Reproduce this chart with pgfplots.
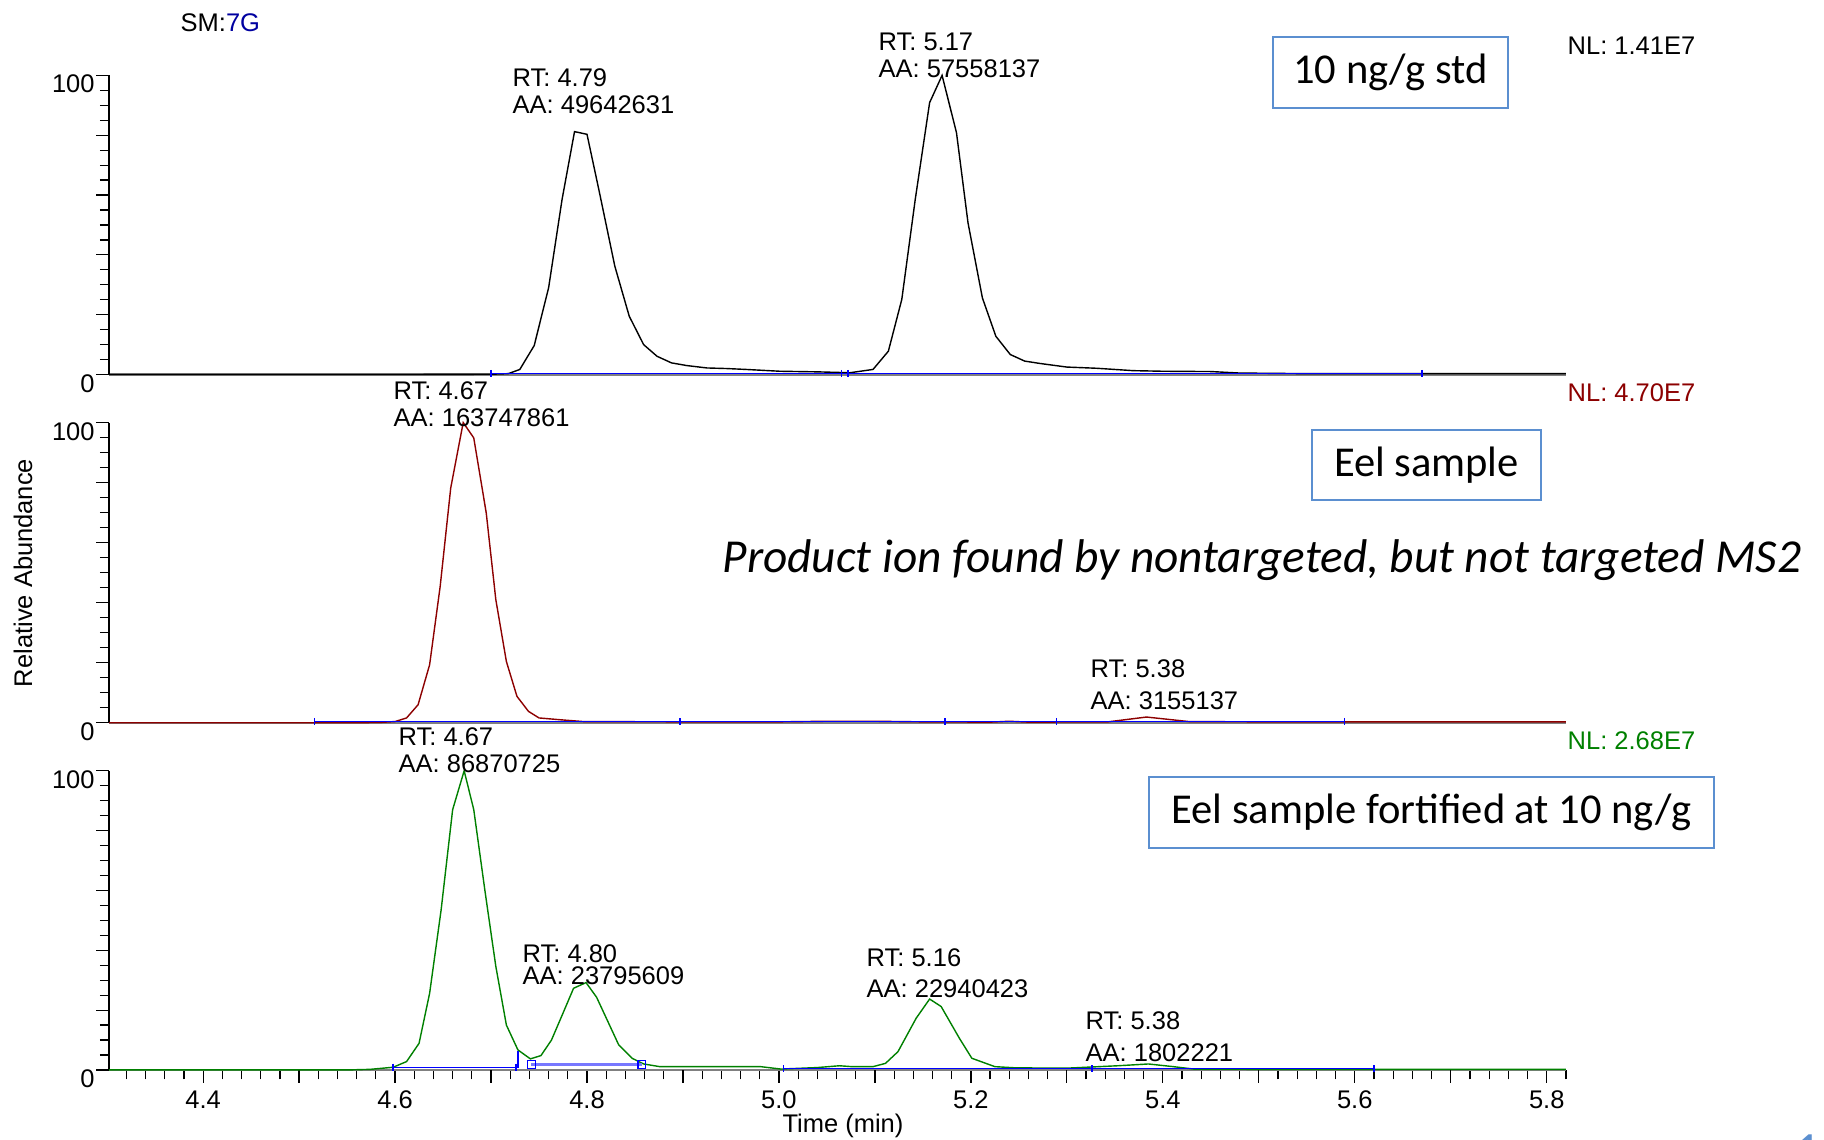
\documentclass[border=0pt]{standalone}
\usepackage{pgfplots}
\pgfplotsset{compat=1.18}
\usepackage{fontspec}
\setmainfont{Liberation Sans}
\newfontfamily\calibri{Carlito}

\definecolor{boxblue}{RGB}{91,143,208}
\definecolor{nlred}{RGB}{140,0,0}
\definecolor{nlgreen}{RGB}{0,128,0}
\definecolor{smblue}{RGB}{0,0,160}
\definecolor{basblue}{RGB}{0,0,255}
\definecolor{lightbas}{RGB}{120,120,255}

\newcommand{\lab}{\fontsize{7.25}{8}\selectfont}
\newcommand{\calfont}{\calibri\fontsize{12.1}{14}\selectfont}

% one chromatogram panel, 0..100 % relative abundance
\pgfplotsset{
  chrom/.style={
    scale only axis, width=14.56cm, height=2.99cm, anchor=south west,
    xmin=4.302, xmax=5.82, ymin=0, ymax=100,
    axis x line=bottom, axis y line=left,
    axis line style={-},
    x axis line style={-, gray, line width=0.6pt},
    y axis line style={-, black, line width=0.4pt},
    clip=false,
    tick align=outside,
    major tick length=0.127cm, minor tick length=0.093cm,
    tick style={black, line width=0.35pt},
    ytick={0,100}, yticklabels={0,100},
    extra y ticks={20,40,60,80}, extra y tick labels={},
    minor ytick={5,10,...,95},
    yticklabel style={font=\lab, anchor=base east, inner sep=0pt, xshift=-0.3pt, yshift=-5pt},
    /pgf/number format/assume math mode=true,
    xtick=\empty,
  }
}

\begin{document}
\begin{tikzpicture}[x=0.01cm, y=0.01cm]
\useasboundingbox (0,0) rectangle (1824,1140);

% ---- 10 ng/g standard ----
\begin{axis}[chrom, at={(1.09cm,7.65cm)}]
\addplot[black, line width=0.4pt] coordinates {
 (4.302,0) (4.60,0) (4.70,0.1) (4.718,0.3) (4.730,1.7) (4.745,9.7) (4.760,29)
 (4.774,58.5) (4.787,81.2) (4.800,80.3) (4.813,60.8) (4.829,36.2) (4.844,19.5)
 (4.859,10) (4.873,6.1) (4.888,3.9) (4.904,3.0) (4.925,2.2) (4.946,2.0) (4.966,1.7)
 (5.001,1.1) (5.040,0.9) (5.074,0.6) (5.098,1.7) (5.114,7.8) (5.128,25.1)
 (5.142,58.5) (5.157,90.9) (5.170,100) (5.185,80.8) (5.197,50.7) (5.212,25.6)
 (5.226,12.8) (5.241,6.7) (5.256,4.5) (5.272,3.7) (5.300,2.5) (5.331,2.1)
 (5.369,1.3) (5.40,1.1) (5.45,1.0) (5.48,0.5) (5.55,0.3) (5.82,0.3)
};
\addplot[basblue, line width=0.4pt, mark=|, mark size=1pt] coordinates {
 (4.70,0.4) (5.065,0.4) (5.072,0.4) (5.67,0.4)
};
\end{axis}

% ---- eel sample ----
\begin{axis}[chrom, at={(1.09cm,4.17cm)}, height=3.0cm]
\addplot[nlred, line width=0.4pt] coordinates {
 (4.302,0) (4.55,0) (4.584,0.1) (4.600,0.4) (4.612,1.6) (4.624,6.0) (4.636,19.3)
 (4.647,45.4) (4.658,78.2) (4.671,100) (4.682,94.9) (4.695,69.9) (4.705,41)
 (4.716,20.4) (4.727,8.8) (4.739,3.8) (4.750,1.6) (4.772,1.0) (4.796,0.4)
 (4.90,0.3) (5.00,0.3) (5.05,0.5) (5.10,0.5) (5.15,0.3) (5.22,0.2) (5.24,0.5)
 (5.26,0.2) (5.343,0.3) (5.383,1.9) (5.427,0.4) (5.50,0.3) (5.82,0.3)
};
\addplot[basblue, line width=0.4pt, mark=|, mark size=1pt] coordinates {
 (4.516,0.4) (4.897,0.4) (5.173,0.4) (5.289,0.4) (5.589,0.4)
};
\end{axis}

% ---- eel sample fortified ----
\begin{axis}[chrom, at={(1.09cm,0.70cm)},
    xtick={4.4,4.6,4.8,5.0,5.2,5.4,5.6,5.8},
    xticklabels={4.4,4.6,4.8,5.0,5.2,5.4,5.6,5.8},
    extra x ticks={4.5,4.7,4.9,5.1,5.3,5.5,5.7},
    extra x tick labels={},
    minor xtick={4.32,4.34,4.36,4.38,4.42,4.44,4.46,4.48,4.52,4.54,4.56,4.58,
      4.62,4.64,4.66,4.68,4.72,4.74,4.76,4.78,4.82,4.84,4.86,4.88,
      4.92,4.94,4.96,4.98,5.02,5.04,5.06,5.08,5.12,5.14,5.16,5.18,
      5.22,5.24,5.26,5.28,5.32,5.34,5.36,5.38,5.42,5.44,5.46,5.48,
      5.52,5.54,5.56,5.58,5.62,5.64,5.66,5.68,5.72,5.74,5.76,5.78,5.82},
    xticklabel style={font=\lab, anchor=base, inner sep=0pt, yshift=-7.4pt},
  ]
\addplot[nlgreen, line width=0.4pt] coordinates {
 (4.302,0) (4.55,0) (4.574,0.2) (4.598,0.9) (4.612,2.8) (4.625,8.9) (4.636,25.6)
 (4.648,53.5) (4.660,87) (4.672,100) (4.682,87) (4.694,59.1) (4.705,34.6)
 (4.716,15) (4.728,6.7) (4.741,3.7) (4.752,4.8) (4.763,10) (4.775,19) (4.786,27.3)
 (4.799,29.2) (4.810,24.3) (4.821,16.7) (4.833,8.4) (4.847,3.9) (4.859,2.0)
 (4.876,1.1) (4.981,1.1) (5.002,0.3) (5.04,0.8) (5.063,1.4) (5.076,1.1) (5.098,1.1)
 (5.111,2.2) (5.124,6.1) (5.143,17.3) (5.157,23.7) (5.169,21.2) (5.188,10.6)
 (5.201,3.9) (5.225,1.1) (5.247,0.7) (5.300,0.6) (5.353,1.4) (5.385,2.0)
 (5.411,1.1) (5.432,0.3) (5.50,0.2) (5.82,0.2)
};
\addplot[basblue, line width=0.4pt, mark=|, mark size=1pt] coordinates {
 (4.598,0.9) (4.726,0.9)
};
\addplot[basblue, line width=0.4pt] coordinates {
 (4.726,0.9) (4.728,0.9) (4.728,6.5)
};
\addplot[lightbas, line width=0.8pt, mark=square, mark size=1.1pt,
  mark options={basblue, line width=0.4pt}] coordinates {
 (4.742,1.8) (4.857,1.8)
};
\addplot[basblue, line width=0.4pt, mark=|, mark size=1pt] coordinates {
 (5.005,0.4) (5.326,0.4) (5.62,0.4)
};
\end{axis}

% ---- peak annotations ----
\begin{scope}[every node/.style={font=\lab, inner sep=0pt, anchor=base west}]
\node at (180,1108) {SM:\textcolor{smblue}{7G}};
\node at (512,1053) {RT: 4.79};
\node at (512,1026) {AA: 49642631};
\node at (878,1089) {RT: 5.17};
\node at (878,1062) {AA: 57558137};
\node at (1567,1085) {NL: 1.41E7};

\node[text=nlred] at (1567,738) {NL: 4.70E7};
\node at (393,740) {RT: 4.67};
\node at (393,713) {AA: 163747861};
\node at (1090,462) {RT: 5.38};
\node at (1090,430) {AA: 3155137};

\node[text=nlgreen] at (1567,390) {NL: 2.68E7};
\node at (398,394) {RT: 4.67};
\node at (398,367) {AA: 86870725};
\node at (522,177) {RT: 4.80};
\node at (522,155) {AA: 23795609};
\node at (866,173) {RT: 5.16};
\node at (866,142) {AA: 22940423};
\node at (1085,110) {RT: 5.38};
\node at (1085,78) {AA: 1802221};

\node[anchor=center, rotate=90] at (23,567) {Relative Abundance};
\node[anchor=base] at (843,7) {Time (min)};
\end{scope}

% ---- slide call-outs ----
\draw[boxblue, line width=0.6pt] (1273,1103) rectangle (1508,1032);
\node[font=\calfont] at (1390.5,1067.5) {10 ng/g std};
\draw[boxblue, line width=0.6pt] (1312,710) rectangle (1541,640);
\node[font=\calfont] at (1426.5,675) {Eel sample};
\draw[boxblue, line width=0.6pt] (1149,363) rectangle (1714,292);
\node[font=\calfont] at (1431.5,327.5) {Eel sample fortified at 10 ng/g};
\node[font=\calibri\fontsize{13.45}{15}\selectfont\itshape] at (1262,580) {Product ion found by nontargeted, but not targeted MS2};
\node[font=\calibri\fontsize{14}{16}\selectfont, text=boxblue, anchor=north west, inner sep=0pt] at (1795,6) {13};
\end{tikzpicture}
\end{document}
